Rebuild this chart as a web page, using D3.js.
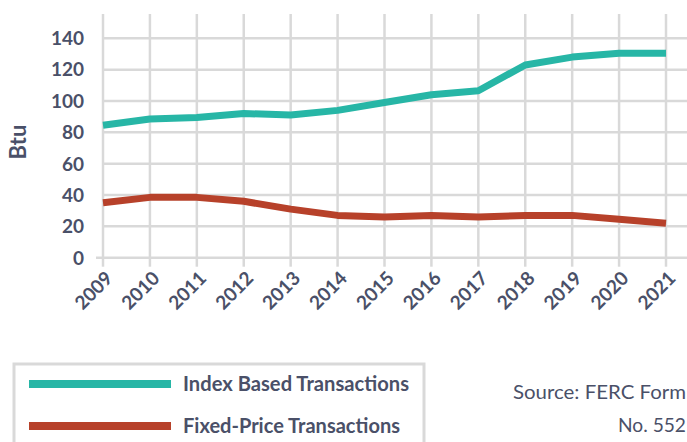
<!DOCTYPE html>
<html>
<head>
<meta charset="utf-8">
<script src="https://cdn.jsdelivr.net/npm/d3@7"></script>
<style>
  html, body { margin: 0; padding: 0; background: #fff; }
  svg { display: block; font-family: Lato, "Open Sans", sans-serif; }
</style>
</head>
<body>
<div id="chart"></div>
<script>
const width = 687;
const height = 442;

// 年
const years = [2009, 2010, 2011, 2012, 2013, 2014, 2015, 2016, 2017, 2018, 2019, 2020, 2021];
// 指数連動取引
const indexBased = [84.5, 88.5, 89.5, 92, 91, 94, 99, 104, 106.5, 123, 128, 130.5, 130.5];
// 固定価格取引
const fixedPrice = [35, 38.5, 38.5, 36, 31, 27, 26, 27, 26, 27, 27, 24.5, 22];
const yTicks = [0, 20, 40, 60, 80, 100, 120, 140];

const seriesNames = ["Index Based Transactions", "Fixed-Price Transactions"];
const seriesColors = ["#27b6a6", "#b7412a"];
const textColor = "#4a5068";
const gridColor = "#d9d9d9";

const svg = d3.select("#chart")
    .append("svg")
    .attr("width", width)
    .attr("height", height);

const x = d3.scaleLinear()
    .domain([2009, 2021])
    .range([103, 666]);

const y = d3.scaleLinear()
    .domain([0, 140])
    .range([257.7, 38.3]);

// 縦のグリッド
svg.append("g")
    .selectAll("line")
    .data(years)
    .join("line")
    .attr("x1", d => x(d))
    .attr("x2", d => x(d))
    .attr("y1", 14)
    .attr("y2", y(0) + 9)
    .attr("stroke", gridColor)
    .attr("stroke-width", 2.5);

// 横のグリッド
svg.append("g")
    .selectAll("line")
    .data(yTicks)
    .join("line")
    .attr("x1", d => d === 0 ? 96 : x(2009))
    .attr("x2", width + 5)
    .attr("y1", d => y(d))
    .attr("y2", d => y(d))
    .attr("stroke", gridColor)
    .attr("stroke-width", 2.5);

// Y軸ラベル
svg.append("g")
    .selectAll("text")
    .data(yTicks)
    .join("text")
    .attr("x", 84)
    .attr("y", d => y(d))
    .attr("dy", "0.36em")
    .attr("text-anchor", "end")
    .attr("fill", textColor)
    .attr("font-size", 19)
    .attr("font-weight", 700)
    .text(d => d);

// X軸ラベル
svg.append("g")
    .selectAll("text")
    .data(years)
    .join("text")
    .attr("transform", d => `translate(${x(d) + 6},${y(0) + 17}) rotate(-45)`)
    .attr("text-anchor", "end")
    .attr("dy", "0.36em")
    .attr("fill", textColor)
    .attr("font-size", 19)
    .attr("font-weight", 700)
    .text(d => d);

// Y軸タイトル
svg.append("text")
    .attr("transform", `translate(26,142) rotate(-90)`)
    .attr("text-anchor", "middle")
    .attr("fill", textColor)
    .attr("font-size", 22)
    .attr("font-weight", 700)
    .text("Btu");

const line = d3.line()
    .x((d, i) => x(years[i]))
    .y(d => y(d));

[indexBased, fixedPrice].forEach(function (values, i) {
    svg.append("path")
        .datum(values)
        .attr("fill", "none")
        .attr("stroke", seriesColors[i])
        .attr("stroke-width", 7)
        .attr("stroke-linejoin", "round")
        .attr("d", line);
});

// 凡例
const legend = svg.append("g");
legend.append("rect")
    .attr("x", 14)
    .attr("y", 364)
    .attr("width", 410)
    .attr("height", 100)
    .attr("fill", "none")
    .attr("stroke", gridColor)
    .attr("stroke-width", 3);

seriesNames.forEach(function (name, i) {
    const ly = 384 + i * 42;
    legend.append("line")
        .attr("x1", 29)
        .attr("x2", 171)
        .attr("y1", ly)
        .attr("y2", ly)
        .attr("stroke", seriesColors[i])
        .attr("stroke-width", 8);
    legend.append("text")
        .attr("x", 183)
        .attr("y", ly)
        .attr("dy", "0.35em")
        .attr("fill", textColor)
        .attr("font-size", 20)
        .attr("font-weight", 700)
        .attr("textLength", i === 0 ? 226 : 217)
        .attr("lengthAdjust", "spacingAndGlyphs")
        .text(name);
});

// 出典
svg.append("g")
    .selectAll("text")
    .data(["Source: FERC Form", "No. 552"])
    .join("text")
    .attr("x", 686)
    .attr("y", (d, i) => 392 + i * 33)
    .attr("dy", "0.35em")
    .attr("text-anchor", "end")
    .attr("fill", textColor)
    .attr("font-size", 19)
    .attr("textLength", (d, i) => i === 0 ? 173 : 68)
    .attr("lengthAdjust", "spacingAndGlyphs")
    .text(d => d);
</script>
</body>
</html>
